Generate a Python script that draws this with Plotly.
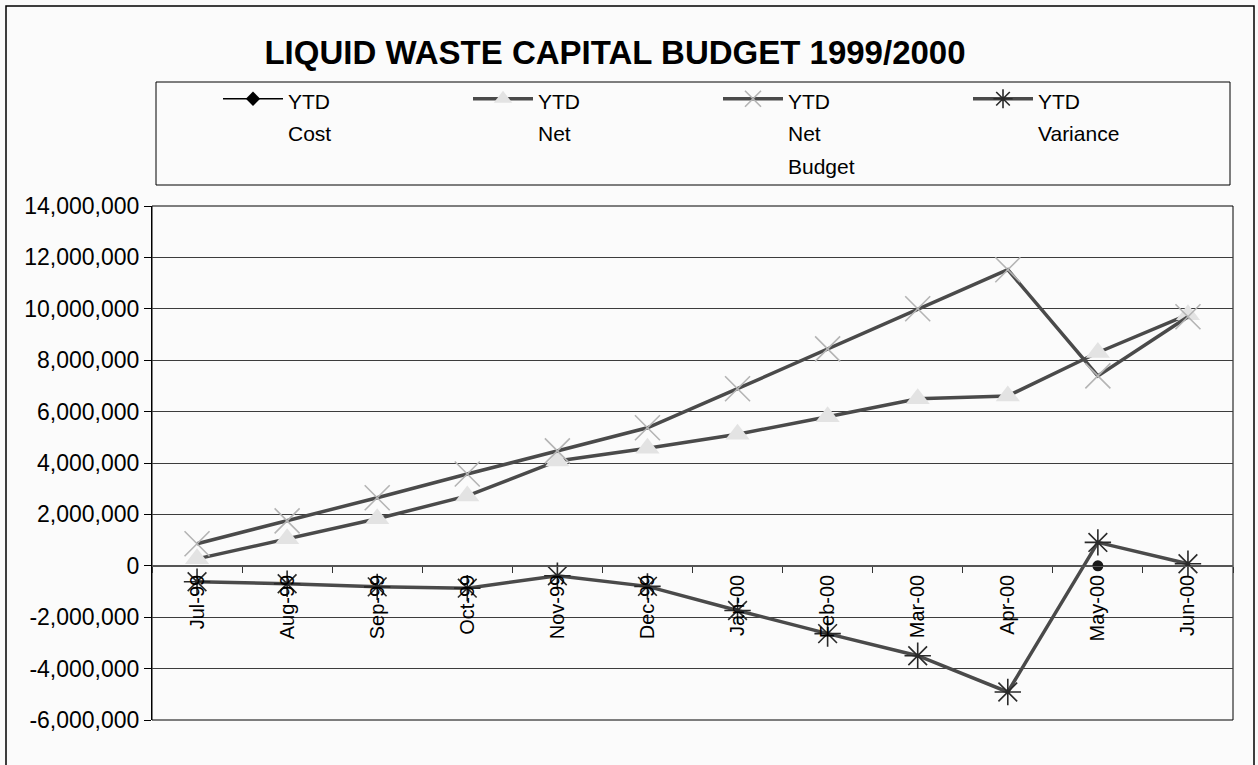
import plotly.graph_objects as go

# Monthly year-to-date figures, 1999/2000 financial year
months = ["Jul-99", "Aug-99", "Sep-99", "Oct-99", "Nov-99", "Dec-99",
          "Jan-00", "Feb-00", "Mar-00", "Apr-00", "May-00", "Jun-00"]
ytd_cost = [None, None, None, None, None, None, None, None, None, None, 0, None]
ytd_net = [270000, 1050000, 1830000, 2720000, 4080000, 4570000,
           5120000, 5800000, 6500000, 6610000, 8300000, 9770000]
ytd_net_budget = [860000, 1750000, 2650000, 3570000, 4470000, 5370000,
                  6890000, 8440000, 10000000, 11520000, 7390000, 9690000]
ytd_variance = [-620000, -700000, -820000, -870000, -390000, -800000,
                -1740000, -2640000, -3500000, -4910000, 910000, 80000]
y_ticks = [-6000000, -4000000, -2000000, 0, 2000000, 4000000,
           6000000, 8000000, 10000000, 12000000, 14000000]
y_tick_text = [f"{v:,}" for v in y_ticks]  # plain hyphen for negatives

W, H = 1258, 765
PL, PR, PT, PB = 152, 1233, 206, 720  # plot-area box in pixels
FONT = "Liberation Sans, Arial, sans-serif"
LINE = "#4a4a4a"


def px_x(v):
    return (v - PL) / (PR - PL)


def px_y(v):
    return (PB - v) / (PB - PT)


def legend_label(*lines):
    # smaller glyphs inside a larger line pitch
    return "<br>".join(f"<span style='font-size:21px'>{t}</span>" for t in lines)


fig = go.Figure()

# legend entry for the cost series (diamond symbol)
fig.add_trace(go.Scatter(
    x=[None], y=[None], name=legend_label("YTD", "Cost"), mode="lines+markers",
    legendgroup="cost",
    line=dict(color="black", width=1.5),
    marker=dict(symbol="diamond", size=11, color="black"),
))
fig.add_trace(go.Scatter(
    x=months, y=ytd_cost, name="YTD Cost", mode="lines+markers",
    legendgroup="cost", showlegend=False,
    line=dict(color="black", width=1.5),
    marker=dict(symbol="circle", size=11, color="#1a1a1a"),
))
fig.add_trace(go.Scatter(
    x=months, y=ytd_net, name=legend_label("YTD", "Net"), mode="lines+markers",
    line=dict(color=LINE, width=3.5),
    marker=dict(symbol="triangle-up", size=21, color="#e3e3e3",
                line=dict(width=0)),
))
fig.add_trace(go.Scatter(
    x=months, y=ytd_net_budget, name=legend_label("YTD", "Net", "Budget"),
    mode="lines+markers",
    line=dict(color=LINE, width=3.5),
    marker=dict(symbol="x-thin-open", size=25, color="#b4b4b4",
                line=dict(width=1.6, color="#b4b4b4")),
))
fig.add_trace(go.Scatter(
    x=months, y=ytd_variance, name=legend_label("YTD", "Variance"),
    mode="lines+markers",
    line=dict(color=LINE, width=3.5),
    marker=dict(symbol="asterisk-open", size=22, color="#2a2a2a",
                line=dict(width=1.6, color="#2a2a2a")),
))

shapes = [
    # outer chart frame
    dict(type="rect", xref="paper", yref="paper",
         x0=px_x(6), x1=px_x(1254), y0=px_y(780), y1=px_y(6),
         line=dict(color="black", width=1.5), layer="below"),
    # legend frame
    dict(type="rect", xref="paper", yref="paper",
         x0=px_x(156), x1=px_x(1230), y0=px_y(185), y1=px_y(82),
         line=dict(color="black", width=1), layer="below"),
    # plot-area frame
    dict(type="rect", xref="paper", yref="paper",
         x0=0, x1=1, y0=0, y1=1,
         line=dict(color="black", width=1), layer="below"),
]

fig.update_layout(
    width=W, height=H,
    margin=dict(l=PL, r=W - PR, t=PT, b=H - PB, autoexpand=False),
    paper_bgcolor="#fbfbfb",
    plot_bgcolor="#fbfbfb",
    font=dict(family=FONT, color="black", size=20),
    title=dict(text="<b>LIQUID WASTE CAPITAL BUDGET 1999/2000</b>",
               font=dict(family=FONT, size=33, color="black"),
               x=615 / W, xanchor="center", y=1 - 52 / H, yanchor="middle"),
    showlegend=True,
    legend=dict(orientation="h", xref="container", yref="container",
                x=218 / W, y=1 - 76 / H,
                xanchor="left", yanchor="top",
                itemwidth=60,
                entrywidth=175, entrywidthmode="pixels",
                valign="top", bgcolor="rgba(0,0,0,0)", borderwidth=0,
                font=dict(family=FONT, size=25, color="black"),
                traceorder="normal"),
    shapes=shapes,
    xaxis=dict(type="category", categoryorder="array", categoryarray=months,
               range=[-0.5, 11.5], anchor="free", position=6 / 20,
               showgrid=False, zeroline=False,
               showline=True, linecolor="#555555", linewidth=1,
               ticks="outside", ticklen=6, tickcolor="#333333",
               tickson="boundaries", tickangle=-90,
               tickfont=dict(family=FONT, size=20, color="black"),
               automargin=False),
    yaxis=dict(range=[-6000000, 14000000], tickvals=y_ticks,
               ticktext=y_tick_text, showgrid=True, gridcolor="#3c3c3c",
               gridwidth=1, zeroline=True, zerolinecolor="#555555",
               zerolinewidth=1, showline=True, linecolor="black",
               linewidth=1, ticks="outside", ticklen=7, tickcolor="black",
               tickfont=dict(family=FONT, size=23, color="black"),
               automargin=False),
)

fig.write_html("out.html")
